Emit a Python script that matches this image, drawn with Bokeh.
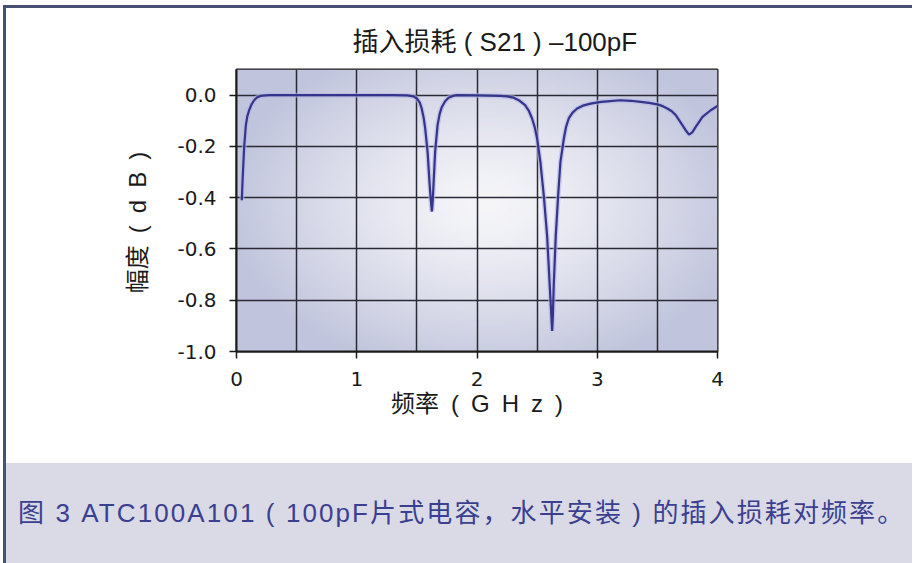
import numpy as np
from bokeh.plotting import figure
from bokeh.layouts import column
from bokeh.models import FixedTicker, Range1d, Div
from bokeh.embed import file_html
from bokeh.resources import INLINE

# ---------------- data ----------------
freq_ghz = [0.044, 0.050, 0.055, 0.064, 0.078, 0.090, 0.105, 0.125, 0.147, 0.170, 0.20, 0.24, 0.28,
            0.60, 1.00, 1.30, 1.42, 1.47, 1.50, 1.525, 1.54, 1.557, 1.569, 1.589, 1.605, 1.616,
            1.625, 1.632, 1.638, 1.652, 1.672, 1.69, 1.708, 1.735, 1.763, 1.80, 1.83,
            2.00, 2.10, 2.194, 2.25, 2.305, 2.355, 2.40, 2.43, 2.458, 2.48, 2.50, 2.527, 2.555,
            2.583, 2.605, 2.618, 2.625, 2.631, 2.638, 2.655, 2.675, 2.694, 2.722, 2.74, 2.763,
            2.795, 2.833, 2.88, 2.944, 3.03, 3.083, 3.19, 3.28, 3.36, 3.43, 3.50, 3.545, 3.583,
            3.62, 3.653, 3.708, 3.74, 3.763, 3.79, 3.819, 3.875, 3.944, 4.0]
s21_db = [-0.41, -0.34, -0.287, -0.20, -0.117, -0.083, -0.059, -0.036, -0.02, -0.009, -0.003, -0.001, 0.0,
          0.0, 0.0, 0.0, -0.001, -0.005, -0.013, -0.03, -0.052, -0.09, -0.13, -0.22, -0.34, -0.41,
          -0.454, -0.41, -0.352, -0.22, -0.117, -0.072, -0.046, -0.024, -0.01, -0.003, 0.0,
          -0.001, -0.002, -0.003, -0.005, -0.01, -0.022, -0.039, -0.06, -0.091, -0.125, -0.17, -0.26, -0.39,
          -0.548, -0.744, -0.86, -0.92, -0.86, -0.744, -0.548, -0.39, -0.26, -0.17, -0.125, -0.091,
          -0.068, -0.052, -0.041, -0.033, -0.026, -0.024, -0.02, -0.022, -0.026, -0.03, -0.036, -0.043, -0.052,
          -0.063, -0.078, -0.117, -0.14, -0.154, -0.145, -0.124, -0.085, -0.059, -0.042]

x_ticks = [0, 1, 2, 3, 4]
x_tick_labels = ["0", "1", "2", "3", "4"]
y_ticks = [0.0, -0.2, -0.4, -0.6, -0.8, -1.0]
y_tick_labels = ["0.0", "-0.2", "-0.4", "-0.6", "-0.8", "-1.0"]
x_grid = [0, 0.5, 1, 1.5, 2, 2.5, 3, 3.5, 4]

title_text = "插入损耗 ( S21 ) –100pF"
x_label = "频率\u2002(\u2002G\u2002H\u2002z\u2002)"
y_label = "幅度\u2002(\u2002d\u2002B\u2002)\u2002\u2002"
caption_text = "图 3 ATC100A101 ( 100pF片式电容，水平安装 ) 的插入损耗对频率。"

BORDER = "#474f74"
W = 906
H_MAIN = 455
H_CAP = 100

# ---------------- main chart ----------------
p = figure(width=W, height=H_MAIN, output_backend="svg", toolbar_location=None,
           x_range=Range1d(0, 4), y_range=Range1d(-1.0, 0.1),
           min_border_left=230, min_border_right=W - 230 - 481, min_border_top=61,
           min_border_bottom=H_MAIN - 61 - 282)
p.border_fill_color = "white"
p.outline_line_color = "#1a1a1a"
p.outline_line_width = 2

p.title.text = title_text
p.title.text_font = "Liberation Sans, Noto Sans CJK SC"
p.title.text_font_size = "26px"
p.title.text_font_style = "normal"
p.title.text_color = "#1a1a1a"
p.title.align = "left"
p.title.offset = 116
p.title.standoff = 25

# radial background gradient inside the frame (decoration)
nx, ny = 240, 120
gx = np.linspace(0, 1, nx)
gy = np.linspace(0, 1, ny)
X, Y = np.meshgrid(gx, gy)
d = np.sqrt(((X - 0.52) / 0.55) ** 2 + ((Y - 0.52) / 0.62) ** 2)
t = np.clip(d, 0, 1) ** 1.3
c0 = np.array([246, 246, 249])
c1 = np.array([192, 196, 220])
img = np.empty((ny, nx), dtype=np.uint32)
view = img.view(dtype=np.uint8).reshape((ny, nx, 4))
for k in range(3):
    view[:, :, k] = (c0[k] * (1 - t) + c1[k] * t).astype(np.uint8)
view[:, :, 3] = 255
p.image_rgba(image=[img], x=p.x_range.start, y=p.y_range.start,
             dw=p.x_range.end - p.x_range.start,
             dh=p.y_range.end - p.y_range.start, level="image")

# grid
p.xgrid.ticker = FixedTicker(ticks=x_grid)
p.ygrid.ticker = FixedTicker(ticks=y_ticks)
for g in (p.xgrid, p.ygrid):
    g.grid_line_color = "#2a2a36"
    g.grid_line_width = 1.5
    g.grid_line_alpha = 1.0

# axes
for ax in (p.xaxis, p.yaxis):
    ax.axis_line_color = "#1a1a1a"
    ax.axis_line_width = 2
    ax.major_tick_line_color = "#1a1a1a"
    ax.major_tick_line_width = 1.5
    ax.major_tick_in = 0
    ax.major_tick_out = 7
    ax.minor_tick_line_color = None
    ax.major_label_text_font = "DejaVu Sans"
    ax.major_label_text_font_size = "20px"
    ax.major_label_text_color = "#1a1a1a"
    ax.axis_label_text_font = "Liberation Sans, Noto Sans CJK SC"
    ax.axis_label_text_font_size = "24px"
    ax.axis_label_text_font_style = "normal"
    ax.axis_label_text_color = "#1a1a1a"

p.xaxis.ticker = FixedTicker(ticks=x_ticks)
p.xaxis.major_label_overrides = {t_: l for t_, l in zip(x_ticks, x_tick_labels)}
p.yaxis.ticker = FixedTicker(ticks=y_ticks)
p.yaxis.major_label_overrides = {t_: l for t_, l in zip(y_ticks, y_tick_labels)}
p.xaxis.major_label_standoff = 13
p.yaxis.major_label_standoff = 13
p.xaxis.axis_label = x_label
p.yaxis.axis_label = y_label
p.xaxis.axis_label_standoff = 1
p.yaxis.axis_label_standoff = 23

# curve (with a soft halo)
p.line(freq_ghz, s21_db, line_color="#b4b4e6", line_width=5, line_alpha=0.6)
p.line(freq_ghz, s21_db, line_color="#34348a", line_width=2.2)

# ---------------- caption band ----------------
cap = Div(text=caption_text, width=W, height=H_CAP, margin=0,
          styles={"background-color": "#d9dae6", "color": "#3a3f90",
                  "font-size": "26px", "letter-spacing": "2.1px",
                  "font-family": "'Liberation Sans', 'Noto Sans CJK SC', sans-serif",
                  "line-height": f"{H_CAP}px", "padding-left": "12px",
                  "box-sizing": "border-box", "white-space": "nowrap",
                  "overflow": "hidden"})

layout = column(p, cap, spacing=0,
                styles={"border-left": f"3px solid {BORDER}",
                        "border-top": f"3px solid {BORDER}",
                        "margin-left": "3px", "margin-top": "5px"})

open("out.html", "w").write(file_html(layout, INLINE))
